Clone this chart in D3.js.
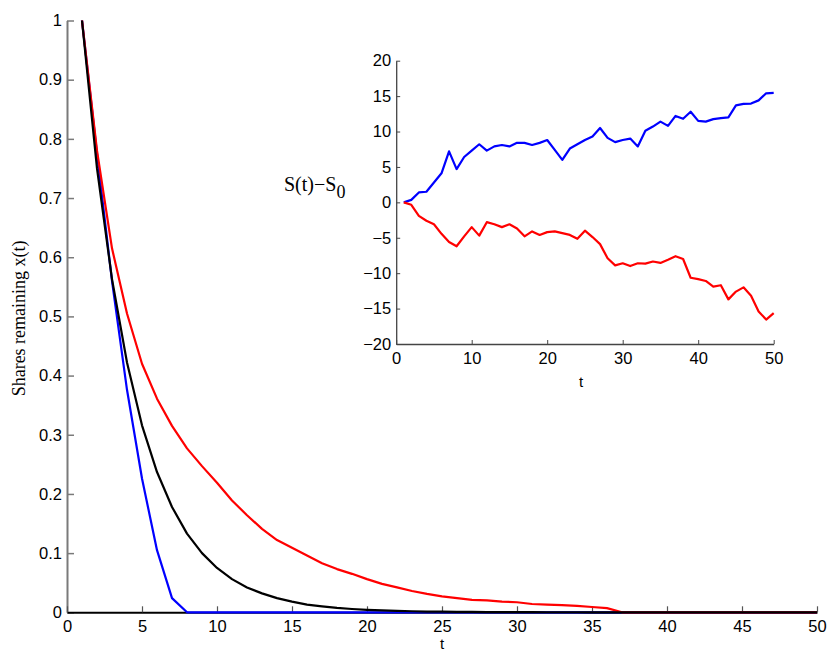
<!DOCTYPE html>
<html>
<head>
<meta charset="utf-8">
<script src="https://cdn.jsdelivr.net/npm/d3@7"></script>
<style>
  html, body { margin: 0; padding: 0; background: #fff; }
  svg { display: block; }
  .tick text { font-family: "Liberation Sans", Arial, sans-serif; font-size: 16.5px; fill: #000; }
</style>
</head>
<body>
<svg id="chart" width="830" height="654"></svg>
<script>
// time steps for the liquidation schedules
const t = d3.range(1, 51);

// fraction of shares remaining, three strategies
const sharesBlue = [1.000, 0.775, 0.560, 0.376, 0.226, 0.105, 0.024, 0, 0, 0,
  0, 0, 0, 0, 0, 0, 0, 0, 0, 0, 0, 0, 0, 0, 0, 0, 0, 0, 0, 0,
  0, 0, 0, 0, 0, 0, 0, 0, 0, 0, 0, 0, 0, 0, 0, 0, 0, 0, 0, 0];
const sharesRed = [1.000, 0.780, 0.615, 0.505, 0.420, 0.361, 0.315, 0.277, 0.247, 0.219,
  0.189, 0.164, 0.141, 0.122, 0.109, 0.096, 0.083, 0.073, 0.065, 0.056,
  0.048, 0.042, 0.036, 0.031, 0.027, 0.024, 0.021, 0.020, 0.018, 0.017,
  0.014, 0.013, 0.012, 0.011, 0.009, 0.007, 0, 0, 0, 0,
  0, 0, 0, 0, 0, 0, 0, 0, 0, 0];
const sharesBlack = [1.000, 0.750, 0.563, 0.422, 0.316, 0.237, 0.178, 0.133, 0.100, 0.075,
  0.056, 0.042, 0.032, 0.024, 0.018, 0.013, 0.010, 0.0075, 0.0056, 0.0042,
  0.0032, 0.0024, 0.0018, 0.0013, 0.0010, 0.0008, 0.0006, 0.0004, 0.0003, 0.0002,
  0.0002, 0.0001, 0.0001, 0.0001, 0, 0, 0, 0, 0, 0,
  0, 0, 0, 0, 0, 0, 0, 0, 0, 0];

// price path relative to the start, two scenarios
const priceUp = [0, 0.35, 1.4, 1.5, 2.8, 4.1, 7.2, 4.7, 6.4, 7.3,
  8.2, 7.3, 7.9, 8.1, 7.9, 8.4, 8.4, 8.1, 8.4, 8.8,
  7.4, 6.0, 7.6, 8.2, 8.8, 9.3, 10.5, 9.1, 8.5, 8.8,
  9.0, 7.9, 10.1, 10.7, 11.4, 10.8, 12.2, 11.8, 12.8, 11.5,
  11.4, 11.75, 11.9, 12.0, 13.7, 13.9, 13.95, 14.4, 15.4, 15.45];
const priceDown = [0, -0.35, -1.9, -2.6, -3.1, -4.45, -5.6, -6.2, -4.8, -3.5,
  -4.7, -2.8, -3.1, -3.5, -3.1, -3.7, -4.8, -4.1, -4.6, -4.2,
  -4.1, -4.35, -4.6, -5.15, -4.0, -4.9, -5.9, -7.9, -8.9, -8.6,
  -9.0, -8.6, -8.65, -8.35, -8.55, -8.1, -7.6, -8.0, -10.65, -10.85,
  -11.1, -11.9, -11.7, -13.7, -12.6, -12.0, -13.2, -15.4, -16.55, -15.65];

const mainXTicks = d3.range(0, 51, 5);
const mainYTicks = d3.range(0, 11).map(d => d / 10);
const insetXTicks = d3.range(0, 51, 10);
const insetYTicks = d3.range(-20, 21, 5);

const svg = d3.select("#chart");

// ---------- main panel ----------
const x = d3.scaleLinear().domain([0, 50]).range([67, 817]);
const y = d3.scaleLinear().domain([0, 1]).range([612.3, 20.5]);

const fmtY = d => d === 0 ? "0" : d === 1 ? "1" : d3.format(".1f")(d);

const yAxisG = svg.append("g")
  .attr("transform", `translate(${x(0)},0)`)
  .call(d3.axisLeft(y).tickValues(mainYTicks).tickFormat(fmtY).tickSizeInner(-7).tickSizeOuter(0).tickPadding(5));
yAxisG.select(".domain").attr("stroke", "#7a7a7a").attr("stroke-width", 2);
yAxisG.selectAll(".tick line").attr("stroke", "#7a7a7a").attr("stroke-width", 1.5);

const xAxisG = svg.append("g")
  .attr("transform", `translate(0,${y(0)})`)
  .call(d3.axisBottom(x).tickValues(mainXTicks).tickSizeInner(-6).tickSizeOuter(0).tickPadding(8));
xAxisG.select(".domain").attr("stroke", "#000").attr("stroke-width", 2);
xAxisG.selectAll(".tick line").attr("stroke", "#555").attr("stroke-width", 1.2);

const mainLine = d3.line().x((d, i) => x(t[i])).y(d => y(d));

[["#0000ff", sharesBlue], ["#ff0000", sharesRed], ["#000000", sharesBlack]].forEach(([c, vals]) => {
  svg.append("path")
    .datum(vals)
    .attr("fill", "none")
    .attr("stroke", c)
    .attr("stroke-width", 2.2)
    .attr("stroke-linejoin", "round")
    .attr("d", mainLine);
});

svg.append("text")
  .attr("x", x(25)).attr("y", 649)
  .attr("text-anchor", "middle")
  .attr("font-family", "Liberation Sans, Arial, sans-serif")
  .attr("font-size", 15)
  .text("t");

svg.append("text")
  .attr("transform", `translate(25,${y(0.5) + 2}) rotate(-90)`)
  .attr("text-anchor", "middle")
  .attr("font-family", "Liberation Serif, Times New Roman, serif")
  .attr("font-size", 18)
  .text("Shares remaining x(t)");

// ---------- inset panel ----------
const xi = d3.scaleLinear().domain([0, 50]).range([396.2, 773.7]);
const yi = d3.scaleLinear().domain([-20, 20]).range([344, 60.7]);

const yiG = svg.append("g")
  .attr("transform", `translate(${xi(0)},0)`)
  .call(d3.axisLeft(yi).tickValues(insetYTicks).tickFormat(d => d < 0 ? "\u2212" + Math.abs(d) : d)
    .tickSizeInner(-4).tickSizeOuter(0).tickPadding(5));
yiG.select(".domain").attr("stroke", "#444").attr("stroke-width", 1.3);
yiG.selectAll(".tick line").attr("stroke", "#444");

const xiG = svg.append("g")
  .attr("transform", `translate(0,${yi(-20)})`)
  .call(d3.axisBottom(xi).tickValues(insetXTicks).tickSizeInner(-4).tickSizeOuter(0).tickPadding(8));
xiG.select(".domain").attr("stroke", "#444").attr("stroke-width", 1.3);
xiG.selectAll(".tick line").attr("stroke", "#444");

const insetLine = d3.line().x((d, i) => xi(t[i])).y(d => yi(d));

[["#0000ff", priceUp], ["#ff0000", priceDown]].forEach(([c, vals]) => {
  svg.append("path")
    .datum(vals)
    .attr("fill", "none")
    .attr("stroke", c)
    .attr("stroke-width", 2.2)
    .attr("stroke-linejoin", "round")
    .attr("d", insetLine);
});

svg.append("text")
  .attr("x", xi(24.5)).attr("y", 387)
  .attr("text-anchor", "middle")
  .attr("font-family", "Liberation Sans, Arial, sans-serif")
  .attr("font-size", 15)
  .text("t");

const sLabel = svg.append("text")
  .attr("x", 284).attr("y", 191)
  .attr("font-family", "Liberation Serif, Times New Roman, serif")
  .attr("font-size", 20);
sLabel.append("tspan").text("S(t)\u2212S");
sLabel.append("tspan").attr("dy", 7).attr("font-size", 18).text("0");
</script>
</body>
</html>
